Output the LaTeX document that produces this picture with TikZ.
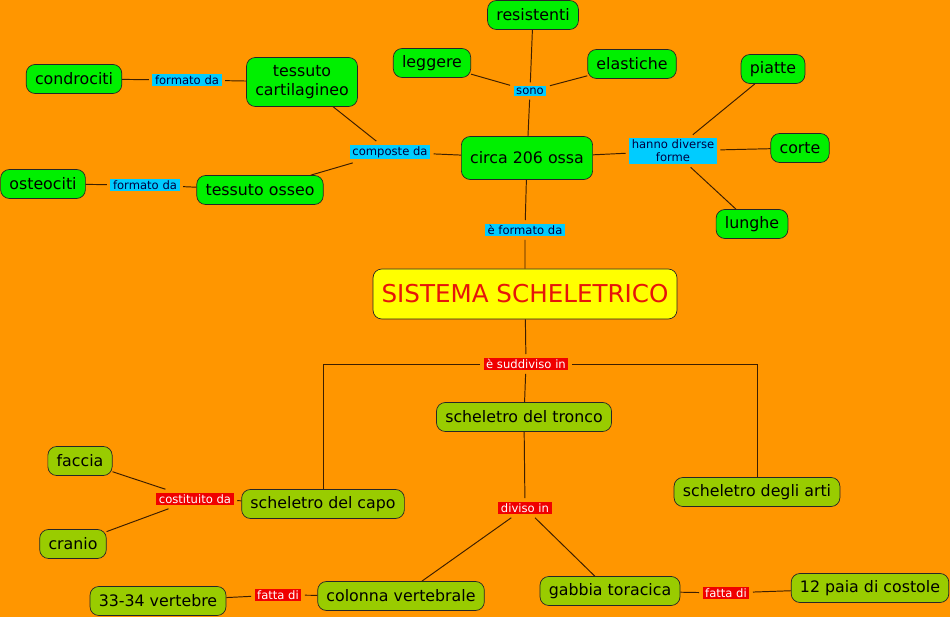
\documentclass[tikz,border=0pt]{standalone}
\usepackage{fontspec}
\setmainfont{DejaVu Sans}
\usetikzlibrary{positioning}
\definecolor{BgOrange}{RGB}{255,150,0}
\definecolor{NodeGreen}{RGB}{0,240,0}
\definecolor{NodeOlive}{RGB}{153,204,0}
\definecolor{LinkBlue}{RGB}{0,204,255}
\definecolor{LinkRed}{RGB}{240,0,0}
\definecolor{TitleYellow}{RGB}{255,255,0}
\definecolor{TitleRed}{RGB}{230,20,10}
\definecolor{LineBrown}{RGB}{60,30,0}

\tikzset{
  concept/.style={draw=black!85, rounded corners=5pt, minimum height=0.58cm,
    inner xsep=5pt, font=\fontsize{9}{10.8}\selectfont, align=center},
  upper/.style={concept, fill=NodeGreen},
  lower/.style={concept, fill=NodeOlive},
  linkb/.style={fill=LinkBlue, inner xsep=1.5pt, inner ysep=1pt, outer sep=2pt,
    font=\fontsize{6.6}{7.4}\selectfont, text=black!75!blue, align=center},
  linkr/.style={linkb, fill=LinkRed, text=white},
  conn/.style={draw=LineBrown, line width=0.55pt}
}

\begin{document}
\begin{tikzpicture}[x=0.02cm, y=-0.02cm]
  % Background
  \fill[BgOrange] (0,0) rectangle (950,617);
  \useasboundingbox (0,0) rectangle (950,617);

  % Title
  \node[draw=black!85, fill=TitleYellow, rounded corners=5pt, minimum width=6.08cm,
    minimum height=1cm, text=TitleRed, font=\fontsize{14}{17}\selectfont] (sistema) at (525,294) {SISTEMA SCHELETRICO};

  % Upper part
  \node[upper, minimum height=0.86cm] (ossa) at (527,158) {circa 206 ossa};
  \node[linkb] (formato) at (525,230) {è formato da};
  \node[linkb] (sono) at (530,91) {sono};
  \node[upper] (resistenti) at (533,15) {resistenti};
  \node[upper] (leggere) at (432,63) {leggere};
  \node[upper] (elastiche) at (632,64) {elastiche};
  \node[linkb] (forme) at (673,151) {hanno diverse\\forme};
  \node[upper] (piatte) at (773,69) {piatte};
  \node[upper] (corte) at (800,148) {corte};
  \node[upper] (lunghe) at (752,224) {lunghe};
  \node[linkb] (composte) at (390,152) {composte da};
  \node[upper, minimum height=0.98cm] (cartilagine) at (302,82) {tessuto\\cartilagineo};
  \node[linkb] (formatoA) at (187,80) {formato da};
  \node[upper] (condrociti) at (74,79) {condrociti};
  \node[upper] (osseo) at (260,190) {tessuto osseo};
  \node[linkb] (formatoB) at (145,185) {formato da};
  \node[upper] (osteociti) at (43,184) {osteociti};

  % Lower part
  \node[linkr] (suddiviso) at (526,364) {è suddiviso in};
  \node[lower] (tronco) at (524,417) {scheletro del tronco};
  \node[lower] (capo) at (323,504) {scheletro del capo};
  \node[lower] (arti) at (757,492) {scheletro degli arti};
  \node[linkr] (costituito) at (195,499) {costituito da};
  \node[lower] (faccia) at (80,461) {faccia};
  \node[lower] (cranio) at (73,544) {cranio};
  \node[linkr] (diviso) at (525,508) {diviso in};
  \node[lower] (colonna) at (401,596) {colonna vertebrale};
  \node[lower] (gabbia) at (610,591) {gabbia toracica};
  \node[linkr] (fattaA) at (278,595) {fatta di};
  \node[lower] (vertebre) at (158,601) {33-34 vertebre};
  \node[linkr] (fattaB) at (726,593) {fatta di};
  \node[lower] (costole) at (870,588) {12 paia di costole};

  % Connectors
  \draw[conn] (ossa) -- (formato) -- (sistema);
  \draw[conn] (ossa) -- (sono);
  \draw[conn] (sono) -- (resistenti);
  \draw[conn] (sono) -- (leggere);
  \draw[conn] (sono) -- (elastiche);
  \draw[conn] (ossa) -- (forme);
  \draw[conn] (forme) -- (piatte);
  \draw[conn] (forme) -- (corte);
  \draw[conn] (forme) -- (lunghe);
  \draw[conn] (ossa) -- (composte);
  \draw[conn] (composte) -- (cartilagine);
  \draw[conn] (composte) -- (osseo);
  \draw[conn] (cartilagine) -- (formatoA) -- (condrociti);
  \draw[conn] (osseo) -- (formatoB) -- (osteociti);
  \draw[conn] (sistema) -- (suddiviso) -- (tronco);
  \draw[conn] (suddiviso) -| (capo);
  \draw[conn] (suddiviso) -| (arti);
  \draw[conn] (capo) -- (costituito);
  \draw[conn] (costituito) -- (faccia);
  \draw[conn] (costituito) -- (cranio);
  \draw[conn] (tronco) -- (diviso);
  \draw[conn] (diviso) -- (colonna);
  \draw[conn] (diviso) -- (gabbia);
  \draw[conn] (colonna) -- (fattaA) -- (vertebre);
  \draw[conn] (gabbia) -- (fattaB) -- (costole);
\end{tikzpicture}
\end{document}
